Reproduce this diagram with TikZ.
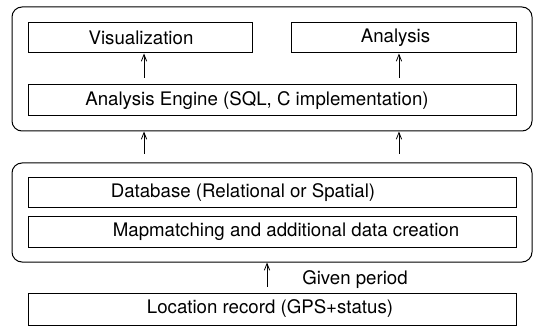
\documentclass[tikz,border=0pt]{standalone}
\usepackage{fontspec}
\setmainfont{TeX Gyre Heros}
\usetikzlibrary{arrows.meta}

\tikzset{
  box/.style={draw,line width=0.75pt,inner sep=0pt,minimum height=22.5pt},
  txt/.style={inner sep=0.75pt,font=\fontsize{14}{16}\selectfont},
  group/.style={draw,line width=0.75pt,rounded corners=7.5pt,inner sep=0pt,minimum width=390pt},
  arr/.style={line width=0.6pt,-{Straight Barb[length=5pt,width=4pt]}}
}

\begin{document}
\begin{tikzpicture}[x=0.75pt,y=0.75pt,yscale=-1,xscale=1]
    \useasboundingbox (0,0) rectangle (534,327);

    %Rounded Rect [id:top group] 
    \node (upper) at (272,69) [group,minimum height=93pt] {};
    %Rounded Rect [id:bottom group] 
    \node (lower) at (272,212.5) [group,minimum height=74.25pt] {};

    %Shape: Rectangle [id:vis] 
    \node (vis) at (140,38) [box,minimum width=168pt] {};
    %Shape: Rectangle [id:ana] 
    \node (ana) at (403.5,38) [box,minimum width=168.75pt] {};
    %Shape: Rectangle [id:engine] 
    \node (engine) at (272,100.5) [box,minimum width=366pt,minimum height=23.25pt] {};
    %Shape: Rectangle [id:db] 
    \node (db) at (272,193) [box,minimum width=366pt] {};
    %Shape: Rectangle [id:mm] 
    \node (mm) at (272,232) [box,minimum width=366pt] {};
    %Shape: Rectangle [id:loc] 
    \node (loc) at (272,309) [box,minimum width=366pt,minimum height=24pt] {};

    % Text Node
    \node (vistext) at ([xshift=0.75pt]vis.center) [txt] {Visualization};
    % Text Node
    \node (anatext) at ([xshift=-6pt]ana.center) [txt] {Analysis};
    % Text Node
    \node (enginetext) at ([xshift=-11.25pt]engine.center) [txt] {Analysis Engine (SQL, C implementation)};
    % Text Node
    \node (dbtext) at ([xshift=-21.75pt]db.center) [txt] {Database (Relational or Spatial)};
    % Text Node
    \node (mmtext) at ([xshift=10.5pt]mm.center) [txt] {Mapmatching and additional data creation};
    % Text Node
    \node (loctext) at ([xshift=-1.5pt]loc.center) [txt] {Location record (GPS+status)};
    % Text Node
    \node (period) at (301,280) [txt,anchor=west] {Given period};

    %Straight Lines [id:engine to vis] 
    \draw [arr,shorten <=5pt] ([xshift=3pt]vis.south |- engine.north) -- ([xshift=3pt]vis.south) ;
    %Straight Lines [id:engine to ana] 
    \draw [arr,shorten <=5pt] ([xshift=-3.4pt]ana.south |- engine.north) -- ([xshift=-3.4pt]ana.south) ;
    %Straight Lines [id:lower to upper, left] 
    \draw [arr,shorten <=6.5pt] ([xshift=3pt]vis.south |- lower.north) -- ([xshift=3pt]vis.south |- upper.south) ;
    %Straight Lines [id:lower to upper, right] 
    \draw [arr,shorten <=6.5pt] ([xshift=-3.4pt]ana.south |- lower.north) -- ([xshift=-3.4pt]ana.south |- upper.south) ;
    %Straight Lines [id:loc to lower] 
    \draw [arr,shorten <=4.5pt] ([xshift=-3.75pt]loc.north) -- ([xshift=-3.75pt]loc.north |- lower.south) ;

\end{tikzpicture}
\end{document}
